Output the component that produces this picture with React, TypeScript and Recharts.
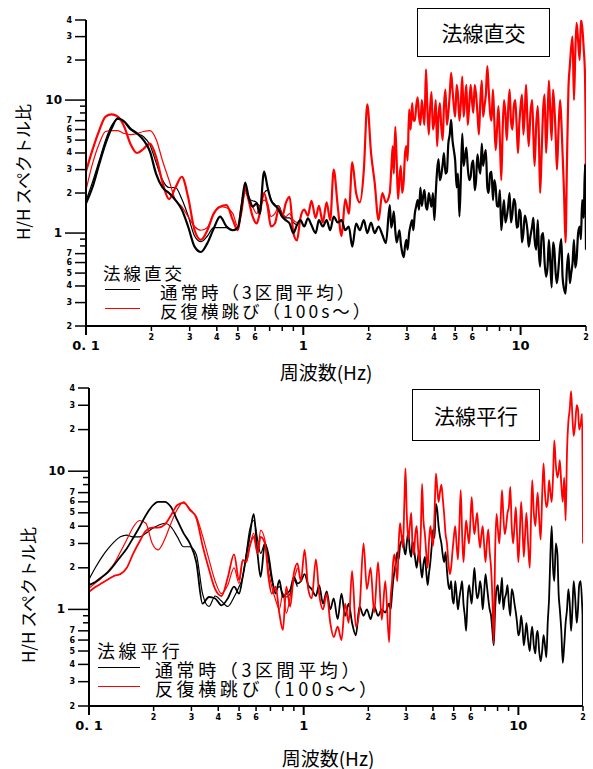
import { Line, LineChart, XAxis, YAxis } from "recharts";

// frequency grid (Hz), shared by both panels
const freqs = [
  0.1, 0.107, 0.115, 0.123, 0.131, 0.14, 0.15, 0.16, 0.172, 0.184, 0.197, 0.21, 0.225, 0.241, 0.258, 0.276, 0.295, 0.316, 0.338, 0.362, 0.387, 0.414, 0.443, 0.474,
  0.5, 0.52, 0.54, 0.56, 0.585, 0.61, 0.63, 0.66, 0.685, 0.71, 0.74, 0.77, 0.8, 0.83, 0.865, 0.9,
  0.935, 0.97, 1.01, 1.05, 1.09, 1.14, 1.18, 1.23, 1.28, 1.33, 1.38, 1.44, 1.5, 1.56, 1.62, 1.68, 1.75, 1.82, 1.9, 1.97, 2.05, 2.13, 2.22, 2.31, 2.4,
  2.5, 2.58, 2.65, 2.73, 2.81, 2.9, 2.98, 3.07, 3.17, 3.26, 3.36, 3.46, 3.56, 3.67, 3.78, 3.89, 4.01, 4.13, 4.25, 4.38,
  4.51, 4.65, 4.79, 4.93, 5.08, 5.23, 5.39, 5.55, 5.71, 5.89, 6.06, 6.24, 6.43, 6.63, 6.82, 7.03, 7.24, 7.46, 7.68, 7.91,
  8.15, 8.39, 8.64, 8.9, 9.17, 9.45, 9.73, 10.0, 10.3, 10.6, 10.9, 11.3, 11.6, 12.0, 12.3, 12.7, 13.1, 13.5, 13.9, 14.3,
  14.7, 15.2, 15.6, 16.1, 16.6, 17.1, 17.6, 18.1, 18.7, 19.2, 19.8, 20.0,
];
// extra points in the noisy band above 2.5 Hz
const freqsFine = [
  2.54, 2.61, 2.69, 2.77, 2.85, 2.94, 3.02, 3.12, 3.21, 3.31, 3.41, 3.51, 3.61, 3.72, 3.83, 3.95, 4.07, 4.19, 4.31, 4.44,
  4.58, 4.72, 4.86, 5.0, 5.15, 5.31, 5.47, 5.63, 5.8, 5.97, 6.15, 6.33, 6.53, 6.72, 6.92, 7.13, 7.35, 7.57, 7.79, 8.03,
  8.27, 8.51, 8.77, 9.03, 9.31, 9.59, 9.86, 10.15, 10.45, 10.75, 11.1, 11.45, 11.8, 12.15, 12.5, 12.9, 13.3, 13.7, 14.1, 14.5,
  14.95, 15.4, 15.85, 16.35, 16.85, 17.35, 17.85, 18.4, 18.95, 19.5, 19.9,
];

// 法線直交
const crossBlack = [
  1.67, 2.2, 3.3, 4.7, 6.1, 7.3, 6.9, 6.1, 5.6, 5.0, 4.1, 2.8, 2.2, 2.0, 1.77, 1.5, 1.12, 0.79, 0.72, 0.84, 1.08, 1.33, 1.12, 1.05,
  1.1, 1.6, 2.4, 1.87, 1.58, 1.67, 1.4, 2.9, 2.2, 1.77, 1.62, 1.5, 1.33, 1.25, 1.18, 1.0,
  1.15, 1.25, 1.12, 1.29, 1.15, 1.0, 1.25, 1.12, 1.25, 1.05, 1.33, 1.2, 1.25, 1.05, 1.12, 0.79, 1.18, 1.05, 1.25, 1.0, 1.2, 1.0, 1.12, 0.97, 0.84,
  1.62, 1.25, 1.05, 0.94, 0.84, 0.66, 0.89, 1.0, 1.25, 1.4, 1.77, 2.2, 1.87, 1.58, 2.0, 1.58, 1.25, 2.97, 2.5, 3.3,
  2.8, 4.7, 7.1, 4.2, 2.2, 1.33, 5.6, 3.75, 3.15, 2.65, 3.5, 2.5, 3.15, 4.7, 3.75, 2.2, 2.8, 1.77, 2.2, 1.58,
  1.05, 1.77, 1.33, 2.0, 1.4, 1.67, 1.12, 1.4, 1.0, 1.25, 0.79, 1.12, 0.89, 1.25, 0.56, 1.0, 0.47, 0.89, 0.39, 0.75,
  0.42, 0.79, 0.47, 0.35, 0.7, 0.5, 0.89, 0.63, 1.12, 1.77, 3.3, 0.75,
];
const crossBlackFine = [
  1.1, 1.45, 0.85, 1.05, 0.72, 0.8, 0.75, 1.15, 1.05, 1.6, 1.5, 1.6, 2.1, 1.5, 1.8, 2.0, 2.0, 3.6, 2.7, 4.0,
  2.9, 5.5, 5.0, 3.5, 2.8, 2.6, 3.2, 4.4, 2.5, 3.3, 2.1, 3.9, 2.8, 3.2, 4.2, 2.0, 2.9, 2.5, 1.6, 2.1,
  1.4, 1.2, 1.6, 1.2, 1.8, 1.1, 1.5, 0.85, 1.35, 1.05, 0.95, 1.3, 0.75, 0.7, 0.95, 0.6, 0.55, 0.6, 0.85, 0.5,
  0.55, 0.9, 0.38, 0.55, 0.42, 0.6, 0.55, 1.0, 0.9, 1.3, 1.8,
];
const crossRed = [
  2.9, 4.2, 5.9, 7.5, 7.8, 7.5, 6.3, 4.7, 4.0, 4.3, 4.7, 3.75, 2.4, 1.8, 2.2, 2.65, 1.87, 1.05, 0.89, 1.05, 1.4, 1.58, 1.62, 1.25,
  1.05, 1.6, 2.2, 1.77, 1.33, 1.18, 1.4, 2.0, 1.58, 1.12, 1.18, 1.5, 1.33, 1.67, 1.87, 1.0,
  0.88, 1.3, 1.5, 1.35, 1.75, 1.3, 1.6, 1.2, 1.7, 1.25, 3.0, 1.6, 0.95, 1.8, 1.4, 3.4, 2.0, 1.7, 3.0, 9.3, 4.0, 2.4, 1.25, 2.0, 1.7,
  2.0, 4.5, 6.3, 1.8, 3.2, 2.5, 4.5, 8.5, 9.5, 7.0, 10.5, 6.5, 8.0, 17, 5.5, 11.5, 7.0, 4.5, 9.5, 5.0,
  12, 8, 16, 9, 13, 7, 15, 10, 6.5, 13, 8, 11, 5.5, 14, 9, 18, 8, 12, 4.2, 9,
  2.5, 10, 5, 12, 6, 10, 4, 9, 5.5, 13, 4.5, 10, 3.2, 9, 2.0, 8.5, 4, 14, 5, 9,
  3, 10, 4, 0.85, 12, 25, 10, 38, 20, 36, 15, 3.0,
];
const crossRedFine = [
  3.0, 2.8, 3.5, 2.6, 2.0, 4.0, 3.5, 6.0, 7.0, 9.0, 7.5, 10, 6.5, 9.0, 8.5, 6.0, 10, 7.5, 6.5, 9.0,
  6.5, 11, 12, 7.5, 11, 9.5, 7.5, 13, 9.0, 10, 13, 8.0, 10, 7.5, 11, 12, 7.0, 7.0, 6.0, 5.0,
  6.0, 8.0, 8.5, 7.0, 9.0, 6.5, 6.5, 11, 8.0, 7.0, 8.0, 5.5, 6.5, 5.0, 4.0, 11, 7.0, 8.0, 12, 5.5,
  6.0, 7.0, 2.0, 3.5, 18, 30, 22, 28, 40, 25, 8,
];
const crossBlackThin = [
  1.75, 2.4, 3.5, 5.0, 6.4, 7.2, 6.8, 6.0, 5.6, 5.3, 4.6, 3.4, 2.5, 2.2, 2.2, 1.8, 1.35, 0.95, 0.86, 0.95, 1.1, 1.1, 1.1, 1.05,
  1.1, 1.5, 2.1, 1.8, 1.75, 1.7, 1.6, 2.0, 2.1, 1.8, 1.6, 1.6, 1.4, 1.3, 1.3, 1.2, 1.15,
];
const crossRedThin = [
  2.1, 3.3, 4.7, 5.8, 5.9, 5.9, 5.6, 5.5, 5.6, 5.8, 5.9, 5.1, 3.5, 2.5, 1.77, 1.58, 1.33, 1.12, 1.05, 1.1, 1.4, 1.58, 1.55, 1.4,
  1.12, 1.4, 2.0, 1.9, 1.58, 1.4, 1.58, 1.77, 1.67, 1.33, 1.4, 1.58, 1.4, 1.33, 1.4, 1.25, 1.2,
];

// 法線平行
const parBlack = [
  1.5, 1.58, 1.72, 1.87, 2.1, 2.4, 2.76, 3.26, 3.95, 4.8, 5.6, 6.0, 6.0, 5.5, 4.4, 3.55, 3.0, 2.2, 1.1, 1.23, 1.2, 1.07, 1.2, 1.46,
  1.3, 1.72, 2.4, 3.35, 4.9, 2.5, 1.72, 3.0, 2.5, 1.72, 1.3, 1.63, 1.23, 1.3, 1.38, 1.72,
  1.54, 1.6, 1.8, 1.5, 1.4, 1.25, 1.5, 1.1, 1.35, 1.0, 1.2, 0.85, 1.3, 0.9, 1.1, 0.8, 0.65, 1.05, 0.9, 1.0, 0.85, 1.05, 0.9, 1.0, 0.95,
  1.1, 1.3, 1.9, 2.6, 2.9, 3.4, 2.5, 3.6, 2.4, 2.8, 2.0, 2.6, 1.7, 2.4, 1.5, 2.2, 3.8, 5.8, 4.0, 3.0,
  2.2, 1.9, 1.4, 1.2, 1.6, 1.0, 1.4, 1.1, 0.7, 1.5, 1.1, 2.0, 1.2, 1.6, 1.0, 1.8, 1.2, 0.9, 0.55, 1.4,
  1.1, 1.7, 1.2, 1.5, 0.9, 1.3, 0.95, 0.65, 0.9, 0.55, 0.8, 0.5, 0.75, 0.48, 0.7, 0.42, 0.65, 0.45, 1.2, 4.0,
  1.6, 2.5, 1.0, 0.41, 0.8, 1.4, 0.7, 1.6, 0.8, 1.5, 1.1, 0.2,
];
const parBlackFine = [
  1.0, 1.6, 2.2, 2.3, 3.1, 2.7, 3.0, 2.7, 3.1, 2.3, 2.4, 2.0, 2.1, 1.9, 1.8, 2.9, 3.3, 5.2, 3.4, 2.5,
  2.6, 1.5, 1.6, 1.1, 1.3, 1.2, 1.6, 0.9, 1.2, 1.3, 1.5, 1.5, 1.3, 1.4, 1.3, 1.5, 1.0, 0.7, 1.0, 1.5,
  1.3, 1.0, 1.3, 1.1, 1.4, 1.1, 0.8, 0.7, 0.75, 0.65, 0.6, 0.65, 0.55, 0.65, 0.5, 0.5, 0.55, 0.8, 2.5, 2.0,
  3.0, 1.3, 0.7, 0.55, 1.0, 1.1, 1.0, 1.2, 1.0, 1.6, 0.9,
];
const parRed = [
  1.34, 1.45, 1.55, 1.65, 1.75, 1.8, 2.0, 2.5, 3.1, 3.7, 3.9, 3.9, 4.1, 4.8, 5.7, 5.9, 5.3, 4.6, 2.9, 1.95, 1.4, 1.25, 1.7, 2.5,
  1.63, 2.27, 2.2, 2.84, 3.35, 2.54, 3.35, 3.0, 1.72, 1.3, 1.46, 0.94, 0.71, 1.46, 1.05, 1.82,
  2.15, 1.6, 2.7, 1.4, 1.2, 2.3, 1.3, 1.0, 1.3, 0.8, 0.63, 0.75, 0.6, 1.1, 0.8, 1.9, 0.75, 1.0, 3.0, 1.4, 2.0, 0.95, 2.2, 0.84, 1.6,
  0.58, 1.6, 2.5, 1.6, 4.2, 2.8, 10.5, 3.2, 5.0, 2.5, 4.0, 2.2, 8.1, 3.5, 2.0, 4.0, 2.9, 9.6, 6.0, 8.0,
  4.9, 3.0, 1.8, 2.6, 4.0, 2.3, 7.3, 2.2, 4.4, 3.0, 6.5, 3.5, 5.0, 2.8, 4.0, 2.2, 3.8, 2.0, 0.57, 4.9,
  3.0, 7.3, 3.5, 5.0, 7.7, 3.0, 5.5, 2.2, 6.0, 2.4, 5.0, 2.0, 8.6, 4.0, 7.0, 3.2, 11.4, 5.5, 8.6, 6.0,
  16.7, 9.0, 12, 6, 4.4, 23, 38, 18, 30, 20, 26, 3.0,
];
const parRedFine = [
  1.2, 2.2, 2.0, 3.0, 3.5, 5.5, 5.0, 4.0, 3.0, 3.5, 2.8, 3.5, 4.5, 2.6, 3.0, 3.3, 5.0, 7.5, 7.0, 6.5,
  3.5, 2.2, 2.0, 3.3, 3.0, 4.0, 3.5, 3.2, 3.6, 4.2, 4.5, 4.2, 3.5, 3.4, 3.0, 3.0, 2.6, 1.2, 2.5, 3.8,
  4.5, 4.8, 4.0, 5.5, 4.0, 4.0, 3.5, 3.5, 4.0, 3.5, 3.0, 4.5, 5.0, 5.5, 4.5, 6.5, 7.0, 6.0, 7.0, 9.0,
  11, 10, 8.0, 9.0, 14, 28, 25, 22, 28, 22, 12,
];
const parBlackThin = [
  1.65, 2.0, 2.4, 2.76, 3.08, 3.35, 3.45, 3.35, 3.35, 3.55, 3.85, 4.05, 4.2, 3.95, 3.35, 2.84, 2.84, 2.5, 1.3, 1.05, 1.25, 1.15, 1.05, 1.23,
  1.46, 1.72, 2.54, 3.75, 4.4, 3.2, 2.54, 3.0, 2.27, 1.63, 1.38, 1.46, 1.3, 1.23, 1.3, 1.63, 1.46,
];
const parRedThin = [
  1.42, 1.55, 1.7, 1.9, 2.15, 2.6, 3.2, 3.9, 4.4, 4.2, 3.0, 2.7, 3.2, 4.2, 5.3, 6.0, 5.2, 4.7, 3.4, 2.3, 1.6, 1.3, 1.5, 2.0,
  1.54, 2.27, 2.2, 2.84, 3.55, 2.54, 3.75, 3.17, 1.92, 1.46, 1.17, 1.0, 1.3, 0.94, 1.23, 1.63, 2.0,
];

const xTickValues = [0.1, 0.2, 0.3, 0.4, 0.5, 0.6, 0.7, 0.8, 0.9, 1, 2, 3, 4, 5, 6, 7, 8, 9, 10, 20];
const xTickText = ["0. 1", "2", "3", "4", "5", "6", "", "", "", "1", "2", "3", "4", "5", "6", "", "", "", "10", "2"];
const yTickValues = [0.2, 0.3, 0.4, 0.5, 0.6, 0.7, 0.8, 0.9, 1, 2, 3, 4, 5, 6, 7, 8, 9, 10, 20, 30, 40];
const yTickText = ["2", "3", "4", "5", "6", "7", "", "", "1", "2", "3", "4", "5", "6", "7", "", "", "10", "2", "3", "4"];

const JP = '"Noto Sans CJK JP", "DejaVu Sans", sans-serif';
const NUM = '"DejaVu Sans", sans-serif';

const near = (a: number, b: number) => Math.abs(a - b) < 1e-9;

function XTick({ x, y, payload }: any) {
  const i = xTickValues.findIndex((t) => near(t, payload.value));
  const label = xTickText[i] ?? "";
  const major = [0.1, 1, 10].some((d) => near(d, payload.value));
  return (
    <g>
      <line x1={x} x2={x} y1={y} y2={y + (major ? 9 : 5)} stroke="#000" strokeWidth={major ? 2 : 1.5} />
      {label && (
        <text
          x={x}
          y={major ? y + 24 : y + 14}
          textAnchor="middle"
          fontSize={major ? 13 : 8}
          fontWeight="bold"
          fontFamily={NUM}
          fill="#000"
        >
          {label}
        </text>
      )}
    </g>
  );
}

function YTick({ x, y, payload }: any) {
  const i = yTickValues.findIndex((t) => near(t, payload.value));
  const label = yTickText[i] ?? "";
  const major = [1, 10].some((d) => near(d, payload.value));
  const len = major ? 21 : label ? 11 : 6;
  return (
    <g>
      <line x1={x - len} x2={x} y1={y} y2={y} stroke="#000" strokeWidth={1.5} />
      {label && (
        <text
          x={x - len - 3}
          y={y}
          textAnchor="end"
          dominantBaseline="central"
          fontSize={major ? 12 : 8}
          fontWeight="bold"
          fontFamily={NUM}
          fill="#000"
        >
          {label}
        </text>
      )}
    </g>
  );
}

function makeRows(
  black: number[],
  red: number[],
  blackThin: number[],
  redThin: number[],
  blackFine: number[],
  redFine: number[]
) {
  const base = freqs.map((f, i) => ({
    f,
    black: black[i] ?? null,
    red: red[i] ?? null,
    blackThin: blackThin[i] ?? null,
    redThin: redThin[i] ?? null,
  }));
  const fine = freqsFine.map((f, i) => ({
    f,
    black: blackFine[i] ?? null,
    red: redFine[i] ?? null,
    blackThin: null,
    redThin: null,
  }));
  return [...base, ...fine].sort((a, b) => a.f - b.f);
}

type PanelProps = {
  rows: ReturnType<typeof makeRows>;
  height: number;
  top: number;
  left: number;
  right: number;
  xAxisH: number;
  mainWidth: number;
  redOnTop: boolean;
};

function Panel({ rows, height, top, left, right, xAxisH, mainWidth, redOnTop }: PanelProps) {
  const black = (
    <Line key="b" dataKey="black" type="monotoneX" stroke="#000" strokeWidth={mainWidth} dot={false} isAnimationActive={false} />
  );
  const red = (
    <Line key="r" dataKey="red" type="monotoneX" stroke="#ff0000" strokeWidth={mainWidth} dot={false} isAnimationActive={false} />
  );
  return (
    <LineChart width={593} height={height} data={rows} margin={{ top, right, bottom: 0, left: 0 }}>
      <XAxis
        dataKey="f"
        type="number"
        scale="log"
        domain={[0.1, 20]}
        allowDataOverflow
        ticks={xTickValues}
        interval={0}
        tickSize={0}
        tickMargin={0}
        tickLine={false}
        tick={(p: any) => <XTick {...p} />}
        height={xAxisH}
        axisLine={{ stroke: "#000", strokeWidth: 2 }}
      />
      <YAxis
        type="number"
        scale="log"
        domain={[0.2, 40]}
        allowDataOverflow
        ticks={yTickValues}
        interval={0}
        tickSize={0}
        tickMargin={0}
        tickLine={false}
        tick={(p: any) => <YTick {...p} />}
        width={left}
        axisLine={{ stroke: "#000", strokeWidth: 2 }}
      />
      <Line dataKey="blackThin" type="monotoneX" stroke="#000" strokeWidth={1.2} dot={false} isAnimationActive={false} />
      <Line dataKey="redThin" type="monotoneX" stroke="#ff0000" strokeWidth={1.2} dot={false} isAnimationActive={false} />
      {redOnTop ? [black, red] : [red, black]}
    </LineChart>
  );
}

const abs = (left: number, top: number, extra: any = {}) => ({
  position: "absolute" as const,
  left,
  top,
  whiteSpace: "nowrap" as const,
  fontFamily: JP,
  color: "#000",
  lineHeight: 1,
  ...extra,
});

type LegendProps = {
  left: number;
  titleY: number;
  row1Y: number;
  gap: number;
  lineX: [number, number];
  textX: number;
  size: number;
  spacing: number;
  title: string;
};

function Legend({ left, titleY, row1Y, gap, lineX, textX, size, spacing, title }: LegendProps) {
  return (
    <>
      <div style={abs(left, titleY, { transform: "translateY(-50%)", fontSize: size, letterSpacing: spacing })}>{title}</div>
      <div style={abs(lineX[0], row1Y - 2, { width: lineX[1] - lineX[0], height: 1.3, background: "#000" })} />
      <div style={abs(lineX[0], row1Y + gap - 2, { width: lineX[1] - lineX[0], height: 1.3, background: "#ff0000" })} />
      <div
        style={abs(textX, row1Y - gap / 2, {
          fontSize: size,
          letterSpacing: spacing,
          lineHeight: `${gap}px`,
        })}
      >
        通常時（3区間平均）
        <br />
        反復横跳び（100s～）
      </div>
    </>
  );
}

export default function App() {
  const crossRows = makeRows(crossBlack, crossRed, crossBlackThin, crossRedThin, crossBlackFine, crossRedFine);
  const parRows = makeRows(parBlack, parRed, parBlackThin, parRedThin, parBlackFine, parRedFine);
  const box = {
    boxSizing: "border-box",
    border: "1.5px solid #000",
    background: "#fff",
    display: "flex",
    alignItems: "center",
    justifyContent: "center",
    fontSize: 21,
  };
  return (
    <div style={{ position: "absolute", left: 0, top: 0, width: 593, height: 769, background: "#fff", overflow: "hidden" }}>
      <div style={{ position: "absolute", left: 0, top: 0 }}>
        <Panel rows={crossRows} height={380} top={20} left={86} right={7} xAxisH={54} mainWidth={2.2} redOnTop={false} />
      </div>
      <div style={{ position: "absolute", left: 0, top: 380 }}>
        <Panel rows={parRows} height={389} top={8} left={89} right={10} xAxisH={63} mainWidth={1.8} redOnTop={true} />
      </div>

      {/* 上段 */}
      <div style={abs(417, 8, { ...box, width: 133, height: 49 })}>法線直交</div>
      <div style={abs(22, 172, { fontSize: 17, transform: "translate(-50%, -50%) rotate(-90deg)" })}>H/H スペクトル比</div>
      <div style={abs(326, 371, { fontSize: 19, transform: "translate(-50%, -50%)" })}>周波数(Hz)</div>
      <Legend
        left={103}
        titleY={273}
        row1Y={291}
        gap={19}
        lineX={[105, 140]}
        textX={160}
        size={17.5}
        spacing={3}
        title="法線直交"
      />

      {/* 下段 */}
      <div style={abs(412, 389, { ...box, width: 128, height: 52 })}>法線平行</div>
      <div style={abs(27, 595, { fontSize: 17, transform: "translate(-50%, -50%) rotate(-90deg)" })}>H/H スペクトル比</div>
      <div style={abs(328, 757, { fontSize: 19, transform: "translate(-50%, -50%)" })}>周波数(Hz)</div>
      <Legend
        left={97}
        titleY={650}
        row1Y={669}
        gap={19}
        lineX={[98, 140]}
        textX={155}
        size={18}
        spacing={3.6}
        title="法線平行"
      />
    </div>
  );
}
